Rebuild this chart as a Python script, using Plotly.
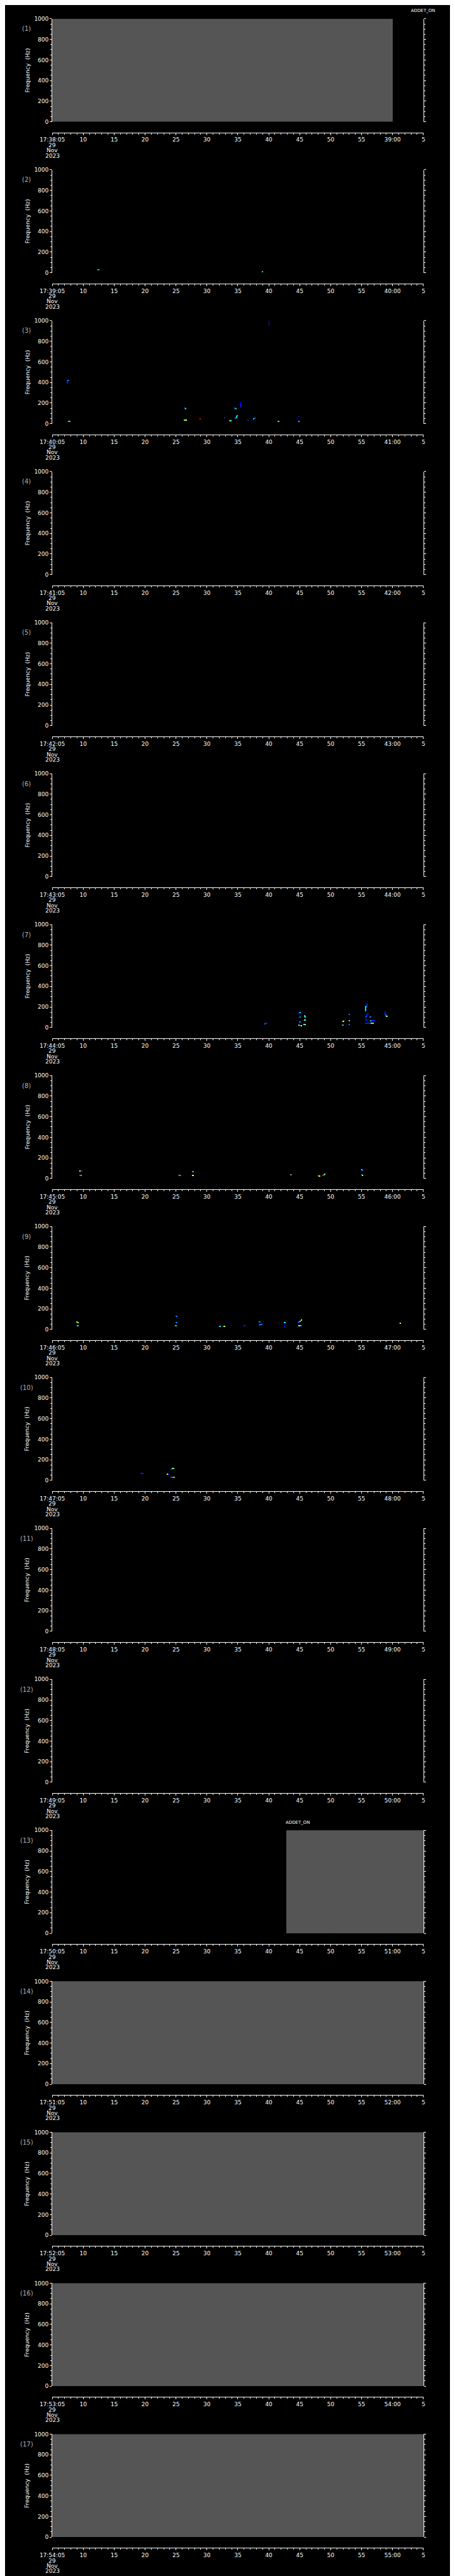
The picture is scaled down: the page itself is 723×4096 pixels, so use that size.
import plotly.graph_objects as go

# ---------------- data ----------------
panel_ids = list(range(1, 18))
panel_start_min = list(range(38, 55))          # 17:MM:05 start of each one-minute panel
panel_date = ["29", "Nov", "2023"]

freq_ticks = [0, 200, 400, 600, 800, 1000]
freq_minor = list(range(0, 1001, 50))
time_major = list(range(0, 61, 5))              # seconds after panel start
time_minor = list(range(0, 61, 1))

# grey (no-data / mode) intervals
gray_panel = [1, 13, 14, 15, 16, 17]
gray_t0 = [0.0, 37.8, 0.0, 0.0, 0.0, 0.0]
gray_t1 = [55.0, 60.0, 60.0, 60.0, 60.0, 60.0]

# mode labels: panel, time position (s)
mode_label_panel = [1, 13]
mode_label_t = [60.0, 39.7]
mode_label_text = ["ADDET_ON", "ADDET_ON"]

# spectral power speckles (panel, t0, t1, f0, f1, level 0..1)
DB, B, LB, C, G, Y, O, R = 0.06, 0.16, 0.3, 0.42, 0.55, 0.7, 0.85, 1.0
spk_panel = []
spk_t0 = []
spk_t1 = []
spk_f0 = []
spk_f1 = []
spk_val = []
_rows = [
    (2, 7.3, 7.45, 28, 36, R), (2, 7.45, 7.6, 28, 36, C), (2, 33.9, 34.05, 7, 13, C),
    (3, 35.0, 35.1, 950, 997, B), (3, 2.42, 2.52, 387, 425, B), (3, 2.52, 2.7, 418, 426, LB),
    (3, 2.5, 3.0, 22, 30, C), (3, 21.4, 21.5, 146, 160, LB), (3, 21.5, 21.65, 144, 152, C),
    (3, 21.3, 21.55, 30, 38, G), (3, 21.55, 21.8, 32, 40, Y), (3, 23.85, 24.0, 43, 50, R),
    (3, 27.85, 27.95, 58, 65, B), (3, 28.6, 28.8, 28, 35, C), (3, 28.8, 29.0, 24, 31, G),
    (3, 29.5, 29.65, 146, 157, LB), (3, 29.65, 29.8, 136, 150, C), (3, 29.5, 29.75, 50, 58, LB),
    (3, 29.75, 29.85, 55, 80, C), (3, 29.85, 30.0, 75, 82, C), (3, 30.4, 30.5, 180, 212, DB),
    (3, 30.5, 30.65, 155, 185, B), (3, 31.55, 31.7, 30, 37, B), (3, 32.5, 32.65, 45, 55, C),
    (3, 32.65, 32.9, 52, 58, LB), (3, 36.5, 36.7, 22, 29, C), (3, 39.8, 39.9, 65, 78, DB),
    (3, 39.8, 39.95, 22, 29, C),
    (7, 34.35, 34.5, 30, 37, LB), (7, 34.5, 34.75, 36, 42, B), (7, 39.85, 40.0, 126, 147, B),
    (7, 40.0, 40.15, 140, 148, C), (7, 39.85, 40.0, 93, 104, B), (7, 40.0, 40.15, 98, 105, LB),
    (7, 39.85, 40.2, 53, 60, LB), (7, 39.8, 39.95, 22, 28, G), (7, 39.95, 40.2, 14, 20, LB),
    (7, 40.2, 40.35, 14, 20, Y), (7, 40.7, 40.8, 104, 122, C), (7, 40.8, 40.95, 100, 107, G),
    (7, 40.6, 40.75, 58, 73, B), (7, 40.75, 40.95, 68, 74, G), (7, 40.6, 41.0, 27, 34, G),
    (7, 46.9, 47.2, 56, 63, Y), (7, 46.85, 46.95, 22, 30, R), (7, 46.95, 47.1, 22, 30, C),
    (7, 47.9, 48.15, 122, 130, LB), (7, 47.9, 48.15, 60, 67, G), (7, 47.9, 48.15, 26, 33, LB),
    (7, 50.6, 50.7, 155, 205, C), (7, 50.7, 50.85, 200, 212, C), (7, 50.85, 50.95, 205, 228, B),
    (7, 50.95, 51.1, 223, 230, B), (7, 50.6, 50.7, 93, 105, B), (7, 50.7, 50.85, 103, 110, LB),
    (7, 50.85, 50.95, 110, 133, B), (7, 50.95, 51.2, 128, 134, B), (7, 51.3, 51.6, 100, 107, LB),
    (7, 50.6, 50.95, 66, 73, B), (7, 51.4, 51.6, 63, 70, C), (7, 51.6, 52.2, 65, 72, B),
    (7, 50.6, 51.5, 36, 43, B), (7, 51.5, 52.0, 38, 45, G), (7, 53.8, 53.9, 120, 155, B),
    (7, 53.9, 54.0, 112, 125, LB), (7, 54.0, 54.2, 108, 115, G),
    (8, 4.45, 4.6, 70, 77, Y), (8, 4.6, 4.9, 70, 77, B), (8, 4.45, 4.6, 27, 34, R),
    (8, 4.6, 4.75, 27, 34, C), (8, 20.4, 20.55, 27, 34, R), (8, 20.55, 20.8, 27, 34, C),
    (8, 22.6, 22.75, 60, 67, LB), (8, 22.75, 22.9, 64, 71, C), (8, 22.6, 22.75, 24, 31, Y),
    (8, 22.75, 22.9, 28, 35, Y), (8, 38.5, 38.65, 31, 38, O), (8, 38.65, 38.8, 31, 38, LB),
    (8, 42.9, 43.05, 24, 31, B), (8, 43.05, 43.3, 20, 26, Y), (8, 43.6, 43.85, 28, 35, R),
    (8, 43.85, 44.0, 28, 42, C), (8, 44.0, 44.1, 35, 42, G), (8, 50.0, 50.15, 78, 85, G),
    (8, 50.15, 50.3, 75, 82, LB), (8, 50.0, 50.1, 30, 44, LB), (8, 50.1, 50.25, 27, 33, Y),
    (9, 3.9, 4.1, 68, 74, G), (9, 4.1, 4.3, 65, 71, Y), (9, 4.0, 4.3, 30, 36, C),
    (9, 19.9, 20.2, 124, 130, LB), (9, 19.9, 20.2, 64, 70, LB), (9, 19.8, 20.1, 30, 36, C),
    (9, 27.0, 27.3, 26, 32, C), (9, 27.7, 28.0, 27, 34, 0.63), (9, 30.9, 31.2, 30, 36, B),
    (9, 33.4, 33.7, 68, 74, LB), (9, 33.4, 33.5, 32, 46, B), (9, 33.5, 34.0, 43, 49, LB),
    (9, 37.45, 37.7, 64, 70, C), (9, 37.45, 37.65, 26, 33, B), (9, 39.7, 39.85, 60, 70, B),
    (9, 39.85, 40.0, 68, 80, LB), (9, 40.0, 40.15, 74, 82, G), (9, 40.15, 40.4, 84, 90, Y),
    (9, 39.8, 39.95, 30, 37, Y), (9, 39.95, 40.3, 34, 41, C), (9, 56.2, 56.4, 55, 61, Y),
    (10, 14.25, 14.75, 63, 71, B), (10, 18.6, 18.75, 58, 64, Y), (10, 18.75, 18.9, 58, 64, B),
    (10, 19.2, 19.35, 100, 112, B), (10, 19.35, 19.7, 110, 116, G), (10, 19.15, 19.3, 24, 30, R),
    (10, 19.3, 19.6, 24, 30, LB), (10, 19.6, 19.8, 24, 30, O),
]
for _r in _rows:
    spk_panel.append(_r[0]); spk_t0.append(_r[1]); spk_t1.append(_r[2])
    spk_f0.append(_r[3]); spk_f1.append(_r[4]); spk_val.append(_r[5])

# ---------------- geometry (reference px, scaled) ----------------
W, H, S = 723, 4096, 0.705
FONT = "DejaVu Sans"
X_L, X_R = 80.7, 944.7
TOP0, STEP, PH, AX_GAP = 24.0, 341.31, 232.8, 24.3

def fx(xr):
    return xr * S / W

def fy(yr):
    return 1 - yr * S / H

jet = [[0.0, "rgb(0,0,150)"], [0.12, "rgb(0,0,255)"], [0.3, "rgb(0,120,255)"],
       [0.42, "rgb(0,220,255)"], [0.55, "rgb(100,255,160)"], [0.7, "rgb(255,255,0)"],
       [0.85, "rgb(255,140,0)"], [1.0, "rgb(255,0,0)"]]

fig = go.Figure()
layout = dict(width=W, height=H, margin=dict(l=0, r=0, t=0, b=0),
              paper_bgcolor="black", plot_bgcolor="black", showlegend=False,
              barmode="overlay", bargap=0)
annotations = []

def tick_text(minute):
    out = []
    for s in time_major:
        sec = 5 + s
        if s == 0:
            out.append("17:%02d:05" % minute)
        elif sec == 60:
            out.append("%02d:00" % (minute + 1))
        elif sec > 60:
            out.append(str(sec - 60))
        else:
            out.append(str(sec))
    return out

tick_font = dict(color="white", family=FONT, size=9)

for i, k in enumerate(panel_ids):
    top = TOP0 + STEP * i
    bot = top + PH
    axis_y = bot + AX_GAP
    xs = "" if k == 1 else str(k)
    xa, ya = "x" + xs, "y" + xs
    layout["xaxis" + xs] = dict(
        type="linear", domain=[fx(X_L), fx(X_R)], range=[0, 60], anchor="free",
        position=fy(axis_y), autorange=False,
        showline=True, linecolor="white", linewidth=1, showgrid=False, zeroline=False,
        tickmode="array", tickvals=time_major, ticktext=tick_text(panel_start_min[i]),
        ticks="outside", ticklen=3, tickcolor="white", tickwidth=1, tickfont=tick_font,
        tickangle=0,
        minor=dict(tickmode="array", tickvals=time_minor, ticks="outside", ticklen=2,
                   tickcolor="white", tickwidth=1, showgrid=False),
        fixedrange=True)
    layout["yaxis" + xs] = dict(
        type="linear", domain=[fy(bot), fy(top)], range=[0, 1000], autorange=False,
        anchor=xa, mirror="ticks",
        showline=True, linecolor="white", linewidth=1, showgrid=False, zeroline=False,
        tickmode="array", tickvals=freq_ticks, ticks="outside", ticklen=3,
        tickcolor="white", tickwidth=1, tickfont=tick_font,
        minor=dict(tickmode="array", tickvals=freq_minor, ticks="outside", ticklen=2,
                   tickcolor="white", tickwidth=1, showgrid=False),
        fixedrange=True)
    # invisible trace so every subplot exists
    fig.add_trace(go.Scatter(x=[0, 60], y=[0, 1000], xaxis=xa, yaxis=ya,
                             mode="markers", marker=dict(opacity=0), hoverinfo="skip"))

    # grey intervals
    gt0 = [a for p, a in zip(gray_panel, gray_t0) if p == k]
    gt1 = [b for p, b in zip(gray_panel, gray_t1) if p == k]
    if gt0:
        fig.add_trace(go.Bar(
            x=[(a + b) / 2 for a, b in zip(gt0, gt1)], y=[1000] * len(gt0), base=[0] * len(gt0),
            width=[b - a for a, b in zip(gt0, gt1)], marker=dict(color="#555555", line_width=0),
            xaxis=xa, yaxis=ya, hoverinfo="skip"))

    # speckles
    idx = [j for j, p in enumerate(spk_panel) if p == k]
    if idx:
        fig.add_trace(go.Bar(
            x=[(spk_t0[j] + spk_t1[j]) / 2 for j in idx],
            y=[spk_f1[j] - spk_f0[j] for j in idx],
            base=[spk_f0[j] for j in idx],
            width=[spk_t1[j] - spk_t0[j] for j in idx],
            marker=dict(color=[spk_val[j] for j in idx], colorscale=jet, cmin=0, cmax=1,
                        line_width=0),
            xaxis=xa, yaxis=ya, hoverinfo="skip"))

    # panel number
    annotations.append(dict(text="(%d)" % k, xref="paper", yref="paper",
                            x=fx(20.7), y=fy(top + 22.7), xanchor="center", yanchor="middle",
                            showarrow=False, font=dict(color="#b4b4b4", family=FONT, size=10)))
    # y title
    annotations.append(dict(text="Frequency  (Hz)", xref="paper", yref="paper",
                            x=fx(22.7), y=fy((top + bot) / 2), xanchor="center", yanchor="middle",
                            textangle=-90, showarrow=False,
                            font=dict(color="white", family=FONT, size=9)))
    # date lines under the first time label
    for d, txt in enumerate(panel_date):
        annotations.append(dict(text=txt, xref="paper", yref="paper", x=fx(X_L),
                                y=fy(axis_y + 29.0 + 11.8 * d), xanchor="center",
                                yanchor="middle", showarrow=False,
                                font=dict(color="white", family=FONT, size=9)))

for p, t, txt in zip(mode_label_panel, mode_label_t, mode_label_text):
    i = panel_ids.index(p)
    top = TOP0 + STEP * i
    xpx = X_L + (X_R - X_L) * t / 60.0
    annotations.append(dict(text=txt, xref="paper", yref="paper", x=fx(xpx),
                            y=fy(top - 18.0), xanchor="center", yanchor="middle",
                            showarrow=False, font=dict(color="white", family=FONT, size=7)))

layout["annotations"] = annotations
fig.update_layout(**layout)
fig.write_html("out.html")
